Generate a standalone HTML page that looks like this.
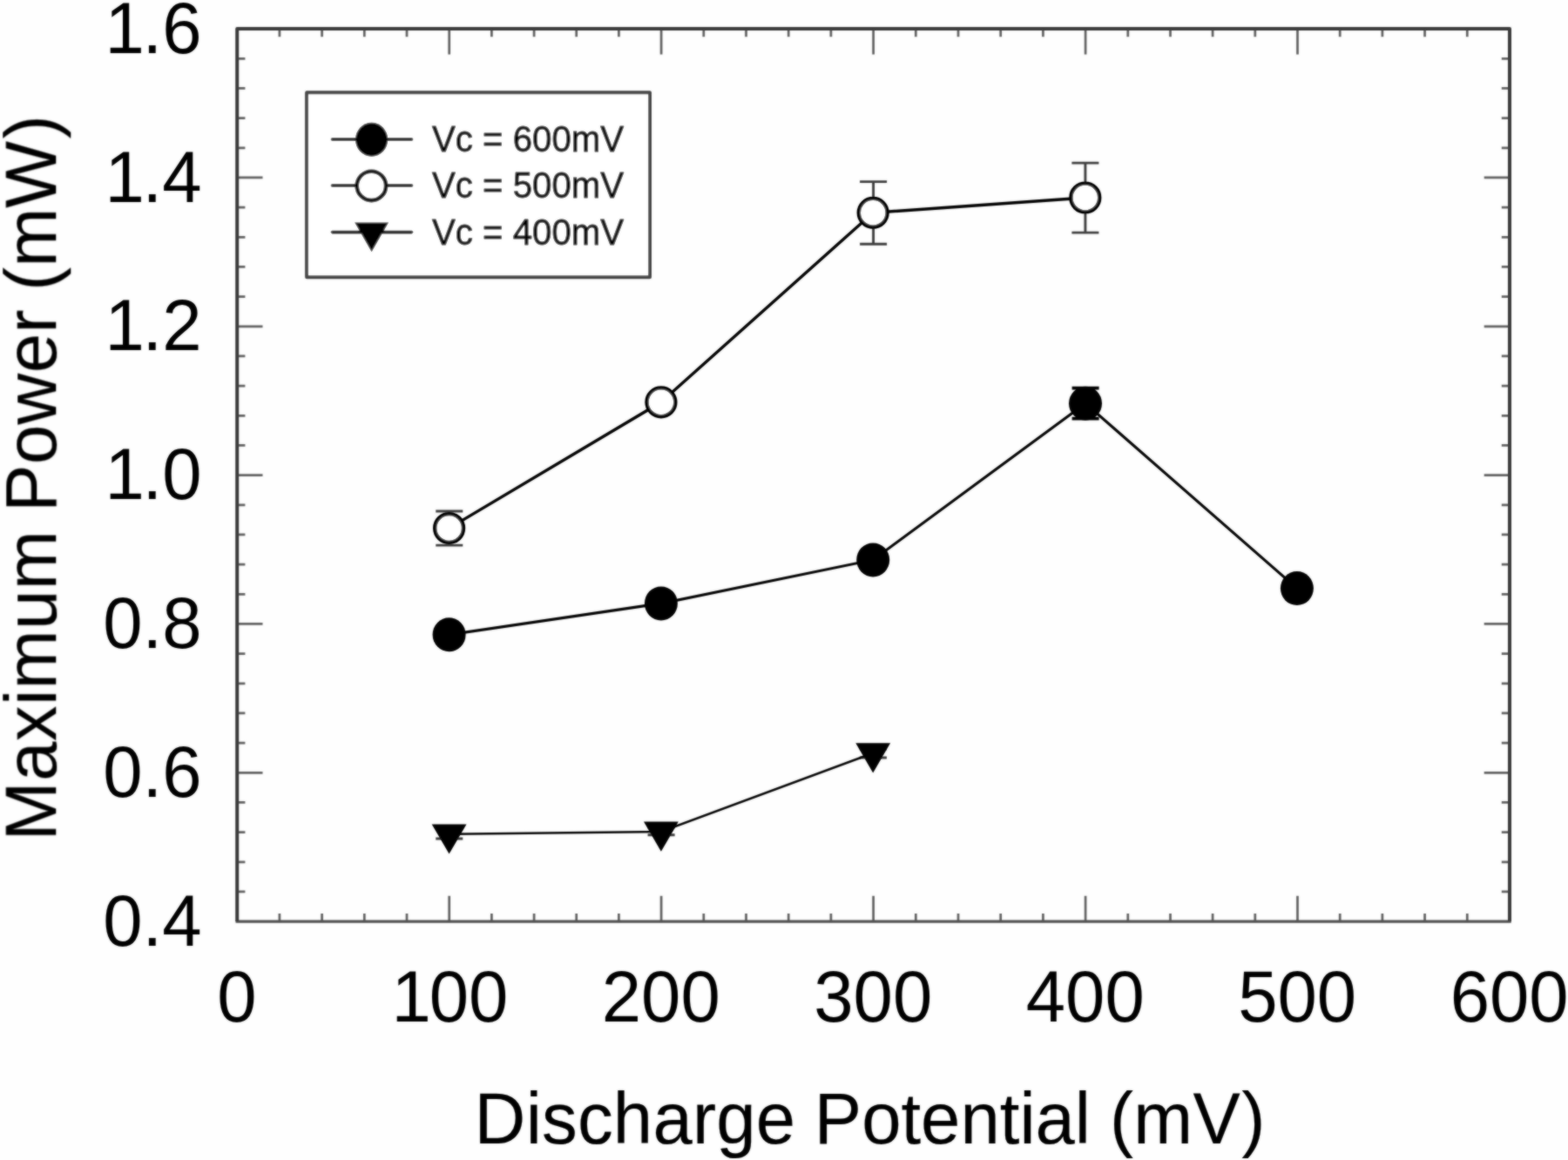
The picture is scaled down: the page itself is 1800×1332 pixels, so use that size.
<!DOCTYPE html>
<html lang="en">
<head>
<meta charset="utf-8">
<title>Maximum Power vs Discharge Potential</title>
<style>
html,body{margin:0;padding:0;background:#fff;}
body{width:1800px;height:1332px;overflow:hidden;}
svg{display:block;}
text{font-family:"Liberation Sans",sans-serif;fill:#000;stroke:#000;stroke-linejoin:round;}
.tick{font-size:81.5px;stroke-width:0.0px;}
.axl{font-size:81.5px;stroke-width:0.15px;}
.leg{font-size:40.2px;stroke-width:0.9px;}
</style>
</head>
<body>
<svg width="1800" height="1332" viewBox="0 0 1800 1332">
<defs><filter id="soft" x="0" y="0" width="1800" height="1332" filterUnits="userSpaceOnUse"><feGaussianBlur in="SourceGraphic" stdDeviation="0.9" result="b"/><feComposite in="SourceGraphic" in2="b" operator="arithmetic" k1="0" k2="0.4" k3="0.60" k4="0"/></filter></defs>
<rect x="0" y="0" width="1800" height="1332" fill="#fefefe"/>
<g id="chart" filter="url(#soft)">
<path d="M320.9 1058.1v-9.2M320.9 33.1v9.2M369.6 1058.1v-9.2M369.6 33.1v9.2M418.3 1058.1v-9.2M418.3 33.1v9.2M467.0 1058.1v-9.2M467.0 33.1v9.2M515.7 1058.1v-29.3M515.7 33.1v29.3M564.4 1058.1v-9.2M564.4 33.1v9.2M613.1 1058.1v-9.2M613.1 33.1v9.2M661.7 1058.1v-9.2M661.7 33.1v9.2M710.4 1058.1v-9.2M710.4 33.1v9.2M759.1 1058.1v-29.3M759.1 33.1v29.3M807.8 1058.1v-9.2M807.8 33.1v9.2M856.5 1058.1v-9.2M856.5 33.1v9.2M905.2 1058.1v-9.2M905.2 33.1v9.2M953.9 1058.1v-9.2M953.9 33.1v9.2M1002.6 1058.1v-29.3M1002.6 33.1v29.3M1051.3 1058.1v-9.2M1051.3 33.1v9.2M1100.0 1058.1v-9.2M1100.0 33.1v9.2M1148.7 1058.1v-9.2M1148.7 33.1v9.2M1197.4 1058.1v-9.2M1197.4 33.1v9.2M1246.1 1058.1v-29.3M1246.1 33.1v29.3M1294.8 1058.1v-9.2M1294.8 33.1v9.2M1343.5 1058.1v-9.2M1343.5 33.1v9.2M1392.1 1058.1v-9.2M1392.1 33.1v9.2M1440.8 1058.1v-9.2M1440.8 33.1v9.2M1489.5 1058.1v-29.3M1489.5 33.1v29.3M1538.2 1058.1v-9.2M1538.2 33.1v9.2M1586.9 1058.1v-9.2M1586.9 33.1v9.2M1635.6 1058.1v-9.2M1635.6 33.1v9.2M1684.3 1058.1v-9.2M1684.3 33.1v9.2M272.2 1023.9h9.2M1733.0 1023.9h-9.2M272.2 989.8h9.2M1733.0 989.8h-9.2M272.2 955.6h9.2M1733.0 955.6h-9.2M272.2 921.4h9.2M1733.0 921.4h-9.2M272.2 887.3h29.3M1733.0 887.3h-29.3M272.2 853.1h9.2M1733.0 853.1h-9.2M272.2 818.9h9.2M1733.0 818.9h-9.2M272.2 784.8h9.2M1733.0 784.8h-9.2M272.2 750.6h9.2M1733.0 750.6h-9.2M272.2 716.4h29.3M1733.0 716.4h-29.3M272.2 682.3h9.2M1733.0 682.3h-9.2M272.2 648.1h9.2M1733.0 648.1h-9.2M272.2 613.9h9.2M1733.0 613.9h-9.2M272.2 579.8h9.2M1733.0 579.8h-9.2M272.2 545.6h29.3M1733.0 545.6h-29.3M272.2 511.4h9.2M1733.0 511.4h-9.2M272.2 477.3h9.2M1733.0 477.3h-9.2M272.2 443.1h9.2M1733.0 443.1h-9.2M272.2 408.9h9.2M1733.0 408.9h-9.2M272.2 374.8h29.3M1733.0 374.8h-29.3M272.2 340.6h9.2M1733.0 340.6h-9.2M272.2 306.4h9.2M1733.0 306.4h-9.2M272.2 272.3h9.2M1733.0 272.3h-9.2M272.2 238.1h9.2M1733.0 238.1h-9.2M272.2 203.9h29.3M1733.0 203.9h-29.3M272.2 169.8h9.2M1733.0 169.8h-9.2M272.2 135.6h9.2M1733.0 135.6h-9.2M272.2 101.4h9.2M1733.0 101.4h-9.2M272.2 67.3h9.2M1733.0 67.3h-9.2" fill="none" stroke="#606060" stroke-width="2.7"/>
<path d="M272.2 1058.1H1733.0" fill="none" stroke="#505050" stroke-width="3.4" stroke-linecap="square"/>
<path d="M272.2 1058.1V33.1H1733.0V1058.1" fill="none" stroke="#3a3a3a" stroke-width="4.0" stroke-linejoin="round"/>
<path d="M1246.1 445.6V480.6M1230.6 445.6h31M1230.6 480.6h31" fill="none" stroke="#000" stroke-width="3.8"/>
<path d="M515.8 587.0V626.1M500.3 587.0h31M500.3 626.1h31M1002.6 208.6V280.2M987.1 208.6h31M987.1 280.2h31M1245.9 187.1V267.1M1230.4 187.1h31M1230.4 267.1h31M515.8 951.0V963.0M500.3 951.0h31M500.3 963.0h31M759.1 950.0V958.8M743.6 950.0h31M743.6 958.8h31M1002.4 860.0V870.0M986.9 860.0h31M986.9 870.0h31" fill="none" stroke="#3c3c3c" stroke-width="2.9"/>
<polyline points="515.6,957.8 758.9,955.0 1002.2,864.7" fill="none" stroke="#000" stroke-width="2.6"/>
<polyline points="515.6,728.8 758.9,692.9 1002.2,642.9 1246.0,463.2 1488.9,675.6" fill="none" stroke="#000" stroke-width="3.1"/>
<polyline points="515.6,606.5 758.9,461.8 1002.2,244.3 1245.8,227.0" fill="none" stroke="#000" stroke-width="3.4"/>
<path d="M495.7 946.4h39.8L515.6 980.6z" fill="#000"/>
<path d="M739.0 943.6h39.8L758.9 977.8z" fill="#000"/>
<path d="M982.3 853.3h39.8L1002.2 887.5z" fill="#000"/>
<ellipse cx="515.6" cy="728.8" rx="19.0" ry="19.5" fill="#000"/>
<ellipse cx="758.9" cy="692.9" rx="19.0" ry="19.5" fill="#000"/>
<ellipse cx="1002.2" cy="642.9" rx="19.0" ry="19.5" fill="#000"/>
<ellipse cx="1246.0" cy="463.2" rx="19.0" ry="19.5" fill="#000"/>
<ellipse cx="1488.9" cy="675.6" rx="19.0" ry="19.5" fill="#000"/>
<circle cx="515.6" cy="606.5" r="16.4" fill="#fff" stroke="#000" stroke-width="4.4"/>
<circle cx="758.9" cy="461.8" r="16.4" fill="#fff" stroke="#000" stroke-width="4.4"/>
<circle cx="1002.2" cy="244.3" r="16.4" fill="#fff" stroke="#000" stroke-width="4.4"/>
<circle cx="1245.8" cy="227.0" r="16.4" fill="#fff" stroke="#000" stroke-width="4.4"/>
<rect x="352.1" y="106.3" width="393.9" height="211.9" fill="#fff" stroke="#444" stroke-width="3.9" stroke-linejoin="round"/>
<path d="M381.5 160.0H472.5" stroke="#000" stroke-width="3.6" stroke-linecap="round" fill="none"/>
<path d="M381.5 213.0H472.5" stroke="#000" stroke-width="3.6" stroke-linecap="round" fill="none"/>
<path d="M381.5 266.6H472.5" stroke="#000" stroke-width="3.6" stroke-linecap="round" fill="none"/>
<ellipse cx="426.6" cy="160.3" rx="18.6" ry="19.5" fill="#000"/>
<circle cx="426.4" cy="213.4" r="16.7" fill="#fff" stroke="#000" stroke-width="4.6"/>
<path d="M407.2 255.6h38.8L426.6 289.2z" fill="#000"/>
<text class="leg" transform="translate(496.0 174.0) scale(1 1.05)">Vc = 600mV</text>
<text class="leg" transform="translate(496.0 227.2) scale(1 1.05)">Vc = 500mV</text>
<text class="leg" transform="translate(496.0 280.9) scale(1 1.05)">Vc = 400mV</text>
<text class="tick" transform="translate(249.2 1172.6) scale(1 1.02)">0</text>
<text class="tick" transform="translate(447.4 1172.6) scale(1 1.02)"><tspan dx="2.2">1</tspan><tspan dx="-2.2">00</tspan></text>
<text class="tick" transform="translate(690.8 1172.6) scale(1 1.02)">200</text>
<text class="tick" transform="translate(934.3 1172.6) scale(1 1.02)">300</text>
<text class="tick" transform="translate(1177.8 1172.6) scale(1 1.02)">400</text>
<text class="tick" transform="translate(1421.2 1172.6) scale(1 1.02)">500</text>
<text class="tick" transform="translate(1664.7 1172.6) scale(1 1.02)">600</text>
<text class="tick" transform="translate(118.2 1085.7) scale(1 1.02)">0.4</text>
<text class="tick" transform="translate(118.2 914.9) scale(1 1.02)">0.6</text>
<text class="tick" transform="translate(118.2 744.0) scale(1 1.02)">0.8</text>
<text class="tick" transform="translate(118.2 573.2) scale(1 1.02)"><tspan dx="2.2">1</tspan><tspan dx="-2.2">.0</tspan></text>
<text class="tick" transform="translate(118.2 402.4) scale(1 1.02)"><tspan dx="2.2">1</tspan><tspan dx="-2.2">.2</tspan></text>
<text class="tick" transform="translate(118.2 231.5) scale(1 1.02)"><tspan dx="2.2">1</tspan><tspan dx="-2.2">.4</tspan></text>
<text class="tick" transform="translate(118.2 60.7) scale(1 1.02)"><tspan dx="2.2">1</tspan><tspan dx="-2.2">.6</tspan></text>
<text class="axl" transform="translate(544.6 1313.4) scale(1 1.015)"><tspan x="0.0" style="letter-spacing:0.2px">Discharge</tspan> <tspan x="390.2" style="letter-spacing:0.0px">Potential</tspan> <tspan x="729.4" style="letter-spacing:0.2px">(mV<tspan dx="1.2">)</tspan></tspan></text>
<text class="axl" transform="translate(64.4 965.4) rotate(-90) scale(1 1.015)"><tspan x="0.0" style="letter-spacing:0.5px">Maximum</tspan> <tspan x="377.4" style="letter-spacing:0.4px">Power</tspan> <tspan x="631.5" style="letter-spacing:0.0px">(mW<tspan dx="2.6">)</tspan></tspan></text>
</g>
</svg>
</body>
</html>
